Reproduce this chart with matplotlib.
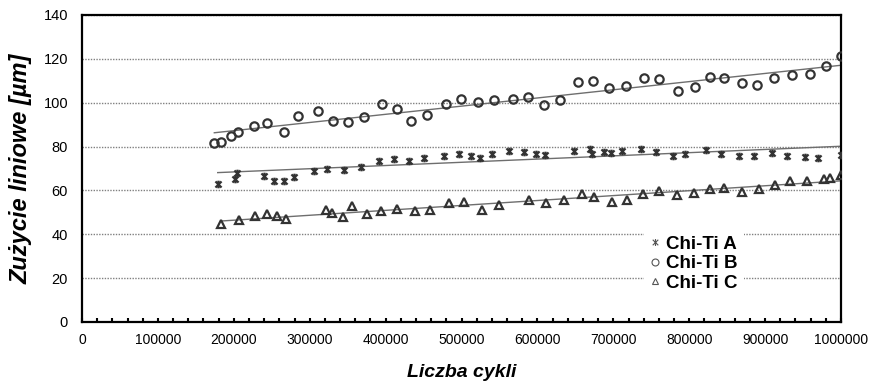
import numpy as np
import matplotlib.pyplot as plt
from matplotlib.path import Path
from matplotlib.lines import Line2D
from matplotlib.ticker import MultipleLocator, FuncFormatter

plt.rcParams['font.family'] = ['Liberation Sans', 'DejaVu Sans']

# Chi-Ti A
cykle_A = [178800, 201600, 203800, 239800, 253400, 266100, 278900, 306100, 323200, 345600,
           367200, 391000, 411500, 430400, 451000, 477000, 496300, 512100, 524400, 540200,
           563000, 582300, 598100, 610400, 647800, 669300, 672300, 687700, 696500, 711500,
           736500, 756200, 778600, 794400, 822100, 841800, 866000, 885400, 908700, 928400,
           952600, 970100, 1000000]
zuzycie_A = [62.8, 65.4, 68.0, 66.5, 64.4, 64.4, 65.9, 68.9, 69.8, 69.2,
             70.8, 73.6, 74.3, 73.2, 75.0, 75.9, 76.4, 75.8, 75.0, 76.4,
             77.9, 77.5, 76.5, 76.1, 77.9, 78.7, 76.5, 77.5, 77.0, 78.1,
             79.1, 77.6, 75.8, 76.7, 78.5, 76.7, 75.9, 75.9, 76.9, 75.9,
             75.3, 74.9, 76.1]

# Chi-Ti B
cykle_B = [174300, 183100, 196300, 205900, 226600, 243300, 265700, 285000, 311300, 330300,
           350900, 371900, 395600, 415000, 433100, 454500, 479600, 498900, 521700, 542800,
           567800, 587200, 609100, 630200, 653900, 672800, 693900, 716700, 740000, 760200,
           785600, 807200, 827800, 845400, 869200, 889700, 911700, 935800, 959500, 980200,
           1000000]
zuzycie_B = [81.4, 82.3, 84.8, 86.6, 89.5, 90.6, 86.6, 94.1, 96.2, 91.8,
             91.2, 93.3, 99.2, 97.1, 91.8, 94.5, 99.3, 101.7, 100.2, 101.0,
             101.7, 102.8, 98.8, 101.4, 109.6, 110.1, 106.6, 107.5, 111.3, 110.6,
             105.5, 107.2, 111.8, 111.3, 108.9, 108.0, 111.3, 112.5, 113.1, 116.8,
             121.1]

# Chi-Ti C
cykle_C = [183100, 207200, 227900, 243300, 256500, 269200, 321900, 329400, 344300, 355700,
           375900, 394000, 415000, 439100, 458500, 483500, 503300, 526600, 549800, 588500,
           611300, 635000, 658400, 674600, 698700, 718000, 739500, 759800, 783500, 805900,
           827800, 846200, 869600, 891500, 913000, 932500, 955200, 977200, 985900, 1000000]
zuzycie_C = [44.7, 46.7, 48.5, 49.3, 48.5, 47.0, 51.2, 49.7, 47.7, 53.1,
             49.3, 50.5, 51.7, 50.6, 51.2, 54.3, 54.8, 51.2, 53.5, 55.8,
             54.1, 55.4, 58.4, 57.0, 54.6, 55.8, 58.4, 59.8, 58.0, 58.6,
             60.8, 61.3, 59.3, 60.8, 62.4, 64.3, 64.2, 65.0, 65.6, 67.1]

# gwiazdka jak w Excelu: X + pionowa kreska
gwiazdka = Path([(-1, -1), (1, 1), (-1, 1), (1, -1), (0, -1.25), (0, 1.25)],
                [Path.MOVETO, Path.LINETO, Path.MOVETO, Path.LINETO, Path.MOVETO, Path.LINETO])

kolor = '#333333'
fig = plt.figure(figsize=(8.79, 3.9), dpi=100)
ax = fig.add_axes([0.0933, 0.1744, 0.8635, 0.7872])

serie = [(cykle_A, zuzycie_A, gwiazdka, 5.5, 'Chi-Ti A'),
         (cykle_B, zuzycie_B, 'o', 6, 'Chi-Ti B'),
         (cykle_C, zuzycie_C, '^', 6, 'Chi-Ti C')]

uchwyty = []
for x, y, m, ms, nazwa in serie:
    ax.plot(x, y, linestyle='none', marker=m, markersize=ms, markerfacecolor='none',
            markeredgecolor=kolor, markeredgewidth=1.6, zorder=3)
    a, b = np.polyfit(x, y, 1)
    xl = np.array([min(x), max(x)])
    ax.plot(xl, a * xl + b, color='#6e6e6e', lw=1.0, zorder=2)
    uchwyty.append(Line2D([], [], linestyle='none', marker=m, markersize=5,
                          markerfacecolor='none', markeredgecolor='#555555',
                          markeredgewidth=0.8, label=nazwa))

ax.set_xlim(0, 1000000)
ax.set_ylim(0, 140)
ax.xaxis.set_major_locator(MultipleLocator(100000))
ax.xaxis.set_minor_locator(MultipleLocator(20000))
ax.xaxis.set_major_formatter(FuncFormatter(lambda v, p: '%d' % v))
ax.yaxis.set_major_locator(MultipleLocator(20))
ax.tick_params(axis='x', which='both', direction='in', length=3, width=1.5, pad=8, labelsize=10)
ax.tick_params(axis='y', length=0, pad=10, labelsize=10.5)
ax.grid(axis='y', linestyle=(0, (1, 1)), color='#808080', lw=1.0, zorder=1)
for s in ax.spines.values():
    s.set_linewidth(1.6)
    s.set_color('black')

ax.set_xlabel('Liczba cykli', fontsize=14, fontweight='bold', fontstyle='italic', labelpad=12)
ax.set_ylabel('Zużycie liniowe [µm]', fontsize=17, fontweight='bold', fontstyle='italic', labelpad=8)

leg = ax.legend(handles=uchwyty, loc='center', bbox_to_anchor=(0.806, 0.19),
                frameon=True, facecolor='white', edgecolor='none', framealpha=1,
                fancybox=False, handlelength=0.6, handletextpad=0.3, labelspacing=0.12,
                borderpad=0.3, prop={'size': 13.5, 'weight': 'bold'})
leg.set_zorder(4)

fig.savefig('out.png', dpi=100)
